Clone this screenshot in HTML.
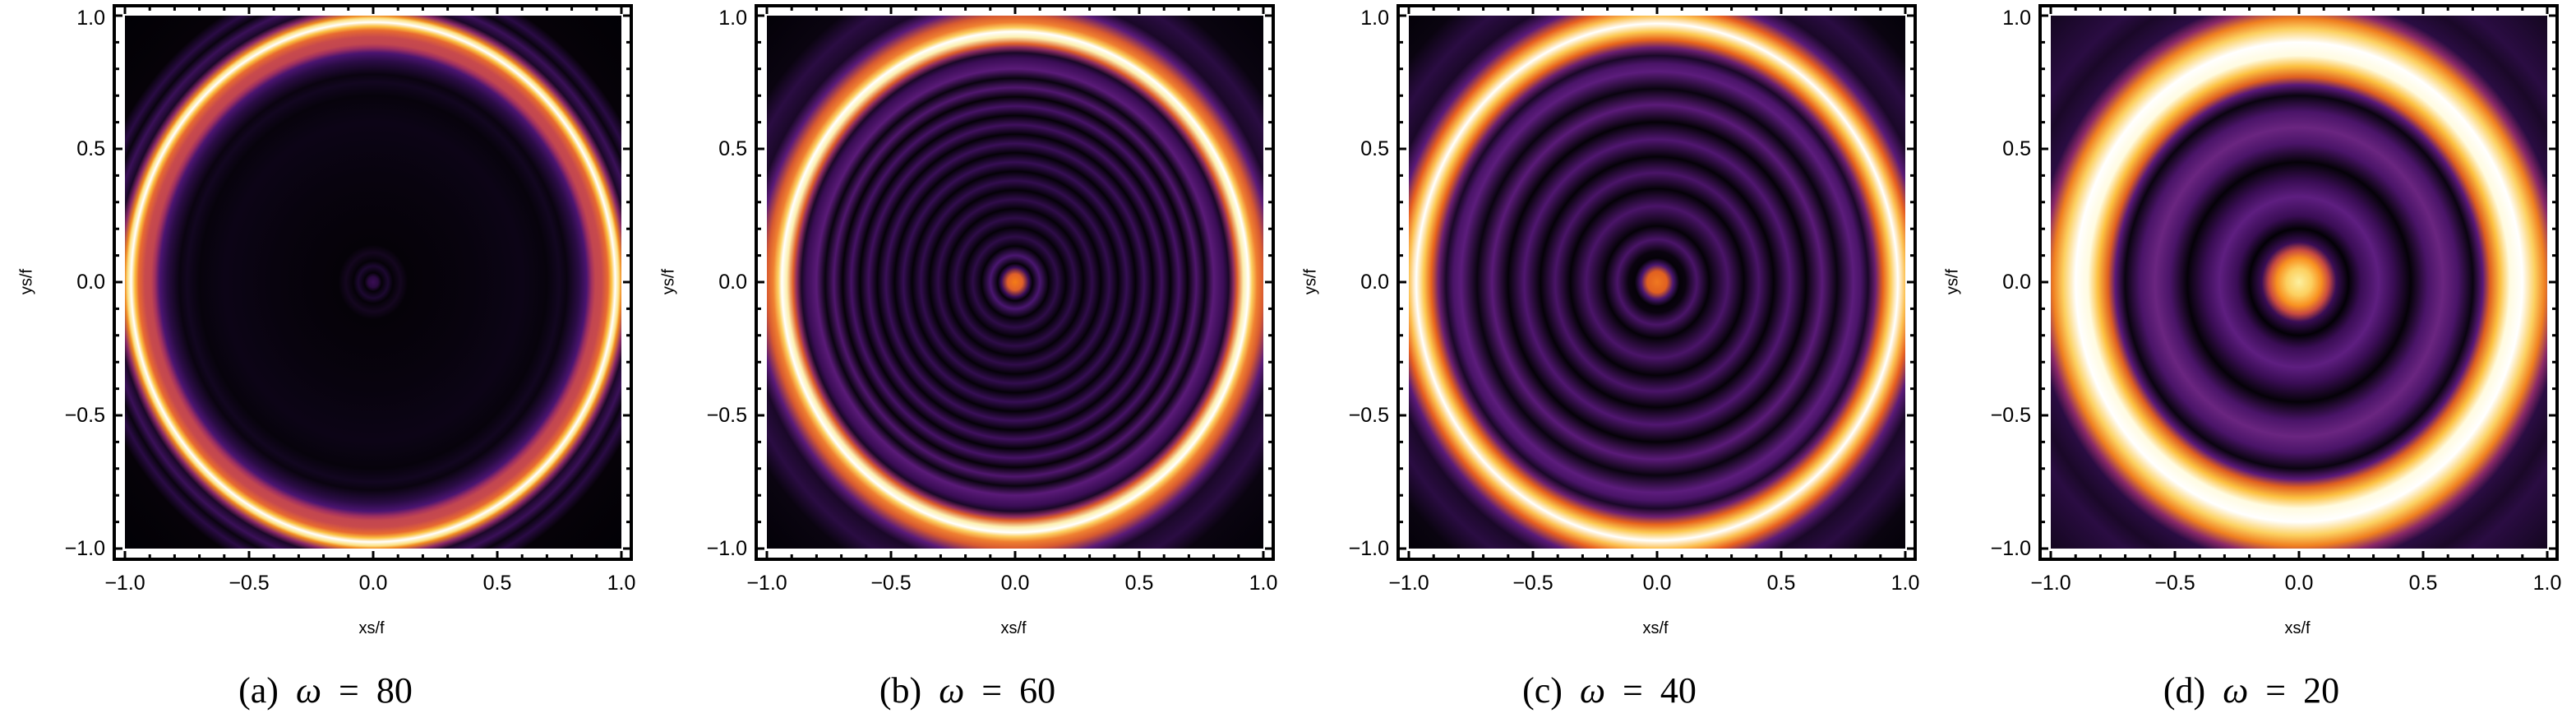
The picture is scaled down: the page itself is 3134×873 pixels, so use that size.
<!DOCTYPE html>
<html><head><meta charset="utf-8">
<style>
body{margin:0;background:#fff;width:3134px;height:873px;overflow:hidden;position:relative;font-family:"Liberation Sans",Arial,sans-serif}
.p{position:absolute;top:0;width:781px;height:873px}
.img{position:absolute;left:152px;top:19px;width:604px;height:648px}
svg.t{position:absolute;left:0;top:0}
.yl{position:absolute;left:40px;width:88px;text-align:right;font-size:25px;line-height:25px}
.xl{position:absolute;top:697px;width:80px;text-align:center;font-size:25px;line-height:25px}
.xlab{position:absolute;left:412px;top:753px;width:80px;text-align:center;font-size:20px}
.ylab{position:absolute;left:-7px;top:331px;width:80px;text-align:center;font-size:20px;transform:rotate(-90deg)}
.cap{position:absolute;left:196px;top:815px;width:400px;text-align:center;font-family:"Liberation Serif",serif;font-size:44px;line-height:50px;white-space:pre;word-spacing:10px}
</style></head><body>

<div class="p" style="left:0">
<div class="img" style="background:radial-gradient(302px 324px at 50% 50%,#3a0d55 0%,#2a0a40 2%,#050208 3.5%,#1c0830 6%,#050208 8%,#14061f 11%,#050208 14%,#08030e 40%,#0c0416 60%,#07030c 70%,#120620 75%,#0a0410 78%,#2a0c45 83%,#4a1470 86%,#a03060 88%,#c24650 89.5%,#c84a4c 92%,#e86a30 94.5%,#fbc040 96%,#ffffff 97.5%,#fce080 99%,#f08a20 100%,#8a2868 102%,#1a0828 104%,#3a1058 107%,#0a0410 110%,#2a0b45 113%,#060208 117%,#000004 150%)"></div>
</div>

<div class="p" style="left:781px">
<div class="img" style="background:radial-gradient(302px 324px at 50% 50%,#f57d15 0%,#e0602a 3%,#3a0d5a 5.5%,#050208 7%,#4a1670 10%,#050208 13.5%,#2e0c48 17%,#050208 20.5%,#2e0c48 24%,#050208 27.5%,#300c4a 31%,#050208 34.5%,#320d4e 38%,#050208 41.5%,#360e54 45%,#050208 48.5%,#3a0f58 52%,#050208 55.5%,#40105e 59%,#050208 62.5%,#461266 66%,#060208 69.5%,#50166e 73%,#0a0410 76.5%,#5a1a78 80%,#3a0d55 84%,#1a0828 86%,#8a2a60 88%,#e0602a 89.5%,#fcf0b0 92%,#ffffff 94%,#fcd060 95.5%,#f08030 97.5%,#d85a30 100%,#5a1a78 104%,#1a0828 108%,#2a0c42 115%,#0a0410 122%,#000004 150%)"></div>
</div>

<div class="p" style="left:1562px">
<div class="img" style="background:radial-gradient(302px 324px at 50% 50%,#f07820 0%,#e06020 4%,#4a1670 6.5%,#050208 9%,#0a030f 11.5%,#4a1468 16%,#050208 21%,#4a1468 28.5%,#050208 35%,#4a1468 41%,#050208 47%,#501670 53.5%,#050208 60%,#5a1a78 66.5%,#0a0410 72.5%,#5c1c7c 79%,#4a1468 82%,#1a0828 85%,#6a1e70 88%,#e8641c 91%,#fcc850 94%,#ffffff 97%,#fcc050 100%,#e86020 103%,#5a1a78 107%,#1a0828 112%,#2a0c42 120%,#0a0410 130%,#000004 150%)"></div>
</div>

<div class="p" style="left:2343px">
<div class="img" style="background:radial-gradient(302px 324px at 50% 50%,#fcf0a0 0%,#fcd060 5%,#f89020 9%,#c84a40 12%,#3a0d55 15%,#030106 20%,#3a0d55 25%,#5e1e80 32%,#3a0d55 38%,#050208 45%,#4a1468 52%,#6a2580 58%,#4a1468 64%,#0a0410 70%,#5a1878 74%,#e06020 77%,#fcc040 81%,#fffbe0 85%,#ffffff 90%,#fcd060 95%,#f08020 99%,#8a2868 103%,#2a0c42 107%,#1a0828 115%,#2a0c42 122%,#0a0410 150%)"></div>
</div>

<svg class="t" width="3134" height="873" xmlns="http://www.w3.org/2000/svg">
<defs>
<g id="ax">
<rect x="139" y="7" width="629" height="673" fill="none" stroke="#000" stroke-width="4"/>
<rect x="141" y="9" width="11" height="669" fill="#fff"/><rect x="756" y="9" width="10" height="669" fill="#fff"/>
<rect x="141" y="9" width="625" height="10" fill="#fff"/><rect x="141" y="667" width="625" height="11" fill="#fff"/>
<g stroke="#000" stroke-width="3">
<path d="M152 678v-8M182.2 678v-4M212.4 678v-4M242.6 678v-4M272.8 678v-4M303 678v-8M333.2 678v-4M363.4 678v-4M393.6 678v-4M423.8 678v-4M454 678v-8M484.2 678v-4M514.4 678v-4M544.6 678v-4M574.8 678v-4M605 678v-8M635.2 678v-4M665.4 678v-4M695.6 678v-4M725.8 678v-4M756 678v-8"/>
<path d="M152 9v8M182.2 9v4M212.4 9v4M242.6 9v4M272.8 9v4M303 9v8M333.2 9v4M363.4 9v4M393.6 9v4M423.8 9v4M454 9v8M484.2 9v4M514.4 9v4M544.6 9v4M574.8 9v4M605 9v8M635.2 9v4M665.4 9v4M695.6 9v4M725.8 9v4M756 9v8"/>
<path d="M141 19h8M141 51.4h4M141 83.8h4M141 116.2h4M141 148.6h4M141 181h8M141 213.4h4M141 245.8h4M141 278.2h4M141 310.6h4M141 343h8M141 375.4h4M141 407.8h4M141 440.2h4M141 472.6h4M141 505h8M141 537.4h4M141 569.8h4M141 602.2h4M141 634.6h4M141 667h8"/>
<path d="M766 19h-8M766 51.4h-4M766 83.8h-4M766 116.2h-4M766 148.6h-4M766 181h-8M766 213.4h-4M766 245.8h-4M766 278.2h-4M766 310.6h-4M766 343h-8M766 375.4h-4M766 407.8h-4M766 440.2h-4M766 472.6h-4M766 505h-8M766 537.4h-4M766 569.8h-4M766 602.2h-4M766 634.6h-4M766 667h-8"/>
</g></g></defs>
<use href="#ax"/><use href="#ax" x="781"/><use href="#ax" x="1562"/><use href="#ax" x="2343"/>
</svg>

<div class="p" style="left:0">
<div class="yl" style="top:10px">1.0</div><div class="yl" style="top:169px">0.5</div><div class="yl" style="top:331px">0.0</div><div class="yl" style="top:493px">−0.5</div><div class="yl" style="top:655px">−1.0</div>
<div class="xl" style="left:112px">−1.0</div><div class="xl" style="left:263px">−0.5</div><div class="xl" style="left:414px">0.0</div><div class="xl" style="left:565px">0.5</div><div class="xl" style="left:716px">1.0</div>
<div class="xlab">xs/f</div><div class="ylab">ys/f</div>
<div class="cap">(a) <i>ω</i> = 80</div>
</div>
<div class="p" style="left:781px">
<div class="yl" style="top:10px">1.0</div><div class="yl" style="top:169px">0.5</div><div class="yl" style="top:331px">0.0</div><div class="yl" style="top:493px">−0.5</div><div class="yl" style="top:655px">−1.0</div>
<div class="xl" style="left:112px">−1.0</div><div class="xl" style="left:263px">−0.5</div><div class="xl" style="left:414px">0.0</div><div class="xl" style="left:565px">0.5</div><div class="xl" style="left:716px">1.0</div>
<div class="xlab">xs/f</div><div class="ylab">ys/f</div>
<div class="cap">(b) <i>ω</i> = 60</div>
</div>
<div class="p" style="left:1562px">
<div class="yl" style="top:10px">1.0</div><div class="yl" style="top:169px">0.5</div><div class="yl" style="top:331px">0.0</div><div class="yl" style="top:493px">−0.5</div><div class="yl" style="top:655px">−1.0</div>
<div class="xl" style="left:112px">−1.0</div><div class="xl" style="left:263px">−0.5</div><div class="xl" style="left:414px">0.0</div><div class="xl" style="left:565px">0.5</div><div class="xl" style="left:716px">1.0</div>
<div class="xlab">xs/f</div><div class="ylab">ys/f</div>
<div class="cap">(c) <i>ω</i> = 40</div>
</div>
<div class="p" style="left:2343px">
<div class="yl" style="top:10px">1.0</div><div class="yl" style="top:169px">0.5</div><div class="yl" style="top:331px">0.0</div><div class="yl" style="top:493px">−0.5</div><div class="yl" style="top:655px">−1.0</div>
<div class="xl" style="left:112px">−1.0</div><div class="xl" style="left:263px">−0.5</div><div class="xl" style="left:414px">0.0</div><div class="xl" style="left:565px">0.5</div><div class="xl" style="left:716px">1.0</div>
<div class="xlab">xs/f</div><div class="ylab">ys/f</div>
<div class="cap">(d) <i>ω</i> = 20</div>
</div>
</body></html>
